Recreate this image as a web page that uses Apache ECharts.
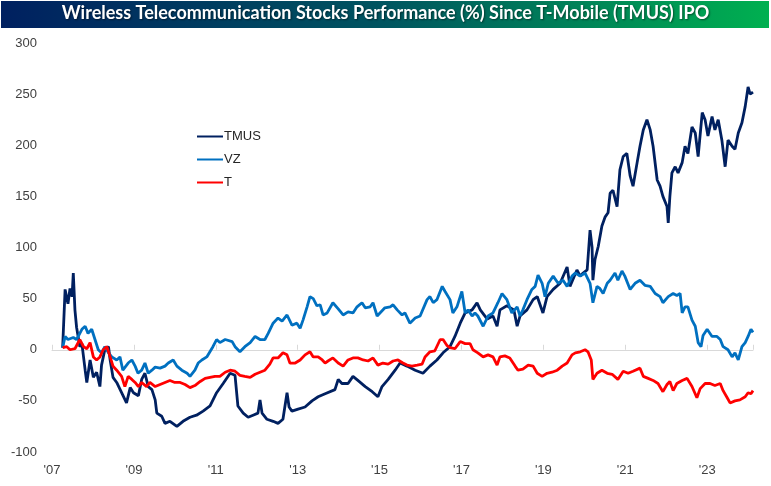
<!DOCTYPE html>
<html>
<head>
<meta charset="utf-8">
<script src="https://cdn.jsdelivr.net/npm/echarts@6/dist/echarts.min.js"></script>
<style>
html,body{margin:0;padding:0;background:#fff;}
#chart{width:771px;height:486px;}
</style>
</head>
<body>
<div id="chart"></div>
<script>
// ---- DATA (decimal year, % performance since IPO) ----
var tmusDates = [2007.26,2007.32,2007.39,2007.44,2007.49,2007.52,2007.56,2007.60,2007.68,2007.73,2007.81,2007.85,2007.93,2008.01,2008.09,2008.17,2008.21,2008.29,2008.38,2008.42,2008.49,2008.58,2008.70,2008.82,2008.91,2008.99,2009.11,2009.19,2009.27,2009.35,2009.44,2009.52,2009.56,2009.68,2009.76,2009.88,2010.05,2010.20,2010.37,2010.53,2010.69,2010.86,2011.02,2011.18,2011.35,2011.47,2011.54,2011.67,2011.79,2011.91,2012.03,2012.08,2012.13,2012.25,2012.40,2012.52,2012.64,2012.74,2012.79,2012.86,2013.01,2013.18,2013.35,2013.50,2013.67,2013.91,2013.99,2014.08,2014.23,2014.35,2014.47,2014.65,2014.82,2014.96,2015.06,2015.21,2015.38,2015.50,2015.67,2015.87,2016.06,2016.23,2016.40,2016.55,2016.72,2016.84,2016.97,2017.09,2017.26,2017.38,2017.46,2017.63,2017.77,2017.87,2017.94,2018.11,2018.28,2018.36,2018.43,2018.60,2018.75,2018.85,2018.99,2019.09,2019.24,2019.41,2019.58,2019.65,2019.82,2019.90,2019.97,2020.07,2020.14,2020.19,2020.21,2020.26,2020.34,2020.43,2020.51,2020.58,2020.63,2020.70,2020.80,2020.87,2020.95,2021.04,2021.12,2021.19,2021.29,2021.36,2021.44,2021.53,2021.61,2021.68,2021.78,2021.85,2021.92,2022.02,2022.05,2022.09,2022.14,2022.22,2022.29,2022.39,2022.46,2022.53,2022.63,2022.71,2022.78,2022.88,2022.95,2023.02,2023.12,2023.19,2023.27,2023.36,2023.44,2023.51,2023.61,2023.68,2023.76,2023.85,2023.93,2024.00,2024.05,2024.12];
var tmusValues = [2,59,45,60,52,75,39,22,3,6,-20,-32,-10,-27,-22,-36,-15,0,3,-10,-27,-32,-42,-52,-37,-42,-45,-29,-23,-36,-39,-49,-62,-65,-72,-70,-75,-70,-66,-64,-60,-55,-42,-33,-23,-25,-55,-62,-66,-64,-62,-49,-62,-68,-70,-72,-68,-42,-56,-60,-58,-56,-50,-46,-43,-39,-29,-33,-33,-26,-30,-36,-41,-46,-36,-29,-20,-13,-16,-20,-23,-16,-10,-3,3,13,26,36,39,46,39,30,33,23,39,43,39,23,33,39,49,52,36,52,59,65,81,62,78,72,75,78,117,100,68,88,101,121,130,134,153,156,140,176,189,192,170,160,183,199,215,225,215,199,166,160,150,140,124,150,173,179,173,183,199,192,218,212,189,232,225,209,228,215,225,205,179,205,199,196,212,222,238,257,250,252];

var vzDates = [2007.26,2007.32,2007.39,2007.52,2007.60,2007.73,2007.81,2007.88,2007.97,2008.05,2008.13,2008.21,2008.29,2008.38,2008.46,2008.58,2008.66,2008.73,2008.86,2008.95,2009.03,2009.10,2009.19,2009.27,2009.35,2009.44,2009.52,2009.64,2009.76,2009.84,2009.96,2010.05,2010.17,2010.30,2010.37,2010.49,2010.57,2010.66,2010.78,2010.93,2011.02,2011.10,2011.23,2011.40,2011.47,2011.59,2011.71,2011.84,2011.96,2012.08,2012.20,2012.28,2012.40,2012.52,2012.62,2012.74,2012.86,2012.98,2013.06,2013.13,2013.23,2013.30,2013.38,2013.47,2013.55,2013.62,2013.72,2013.86,2013.99,2014.11,2014.23,2014.35,2014.45,2014.57,2014.65,2014.77,2014.84,2014.94,2015.01,2015.13,2015.26,2015.33,2015.43,2015.55,2015.62,2015.74,2015.87,2015.99,2016.16,2016.23,2016.31,2016.40,2016.53,2016.60,2016.72,2016.79,2016.89,2017.01,2017.09,2017.16,2017.26,2017.33,2017.40,2017.53,2017.65,2017.77,2017.89,2017.99,2018.11,2018.23,2018.36,2018.43,2018.50,2018.60,2018.72,2018.80,2018.87,2018.97,2019.04,2019.12,2019.24,2019.36,2019.48,2019.58,2019.70,2019.78,2019.90,2020.02,2020.14,2020.21,2020.31,2020.38,2020.46,2020.56,2020.63,2020.75,2020.82,2020.92,2020.99,2021.12,2021.24,2021.36,2021.48,2021.61,2021.73,2021.85,2021.92,2022.05,2022.17,2022.26,2022.34,2022.39,2022.46,2022.53,2022.63,2022.71,2022.78,2022.85,2022.90,2023.00,2023.12,2023.24,2023.32,2023.39,2023.51,2023.61,2023.68,2023.76,2023.85,2023.93,2024.00,2024.07,2024.12];
var vzValues = [2,13,10,12,10,20,23,16,20,10,0,-3,3,-3,-7,-10,-7,-20,-13,-10,-16,-23,-20,-13,-23,-20,-17,-18,-16,-13,-10,-16,-20,-23,-26,-20,-13,-10,-7,3,10,7,10,8,3,-2,3,7,13,10,10,16,26,31,28,34,24,26,21,29,42,52,50,43,44,34,36,46,40,34,37,36,42,46,41,42,46,33,36,41,42,44,39,34,36,26,31,33,49,52,46,49,62,57,49,36,42,57,36,39,33,36,33,23,33,36,46,55,49,36,42,33,39,49,59,62,73,65,52,65,72,65,68,62,72,75,72,75,65,46,62,60,55,65,68,75,68,77,72,59,65,68,63,62,55,52,46,52,55,53,55,36,42,42,29,23,7,3,14,20,13,13,10,3,0,-7,-3,-10,3,7,13,20,17];

var tDates = [2007.26,2007.36,2007.44,2007.56,2007.68,2007.77,2007.85,2007.93,2008.01,2008.09,2008.17,2008.25,2008.34,2008.42,2008.49,2008.58,2008.70,2008.78,2008.86,2008.95,2009.03,2009.11,2009.19,2009.31,2009.39,2009.52,2009.64,2009.76,2009.88,2010.00,2010.13,2010.25,2010.37,2010.49,2010.62,2010.74,2010.86,2010.98,2011.10,2011.23,2011.35,2011.47,2011.59,2011.71,2011.84,2011.96,2012.08,2012.20,2012.32,2012.40,2012.52,2012.64,2012.74,2012.81,2012.94,2013.06,2013.18,2013.30,2013.38,2013.50,2013.60,2013.67,2013.74,2013.86,2013.99,2014.11,2014.23,2014.35,2014.47,2014.60,2014.72,2014.84,2014.96,2015.08,2015.21,2015.33,2015.45,2015.57,2015.67,2015.79,2015.92,2016.04,2016.11,2016.23,2016.35,2016.48,2016.55,2016.65,2016.72,2016.84,2016.97,2017.09,2017.21,2017.28,2017.40,2017.53,2017.65,2017.77,2017.87,2017.94,2018.06,2018.18,2018.31,2018.38,2018.50,2018.63,2018.75,2018.85,2018.97,2019.09,2019.21,2019.34,2019.46,2019.58,2019.70,2019.78,2019.90,2020.02,2020.09,2020.17,2020.21,2020.31,2020.43,2020.56,2020.68,2020.82,2020.95,2021.07,2021.19,2021.36,2021.44,2021.56,2021.68,2021.80,2021.92,2022.02,2022.09,2022.17,2022.26,2022.39,2022.51,2022.63,2022.75,2022.83,2022.95,2023.07,2023.19,2023.32,2023.39,2023.49,2023.56,2023.68,2023.80,2023.93,2024.00,2024.07,2024.12];
var tValues = [2,3,0,1,10,3,1,7,-7,-10,-7,0,3,-7,-16,-20,-26,-36,-26,-29,-32,-36,-32,-36,-32,-36,-34,-32,-30,-32,-32,-34,-37,-35,-31,-28,-27,-26,-26,-22,-20,-21,-25,-26,-27,-24,-22,-20,-14,-8,-8,-3,-5,-13,-13,-10,-5,-2,-7,-7,-10,-13,-11,-8,-13,-16,-10,-8,-8,-10,-11,-8,-15,-13,-14,-11,-10,-13,-15,-16,-15,-14,-7,-2,-1,10,10,4,2,1,8,6,6,0,-3,-7,-5,-7,-15,-7,-6,-8,-16,-20,-19,-15,-16,-23,-26,-23,-22,-20,-16,-13,-5,-3,-2,0,-2,-10,-29,-23,-20,-23,-24,-29,-21,-23,-21,-18,-26,-28,-30,-33,-41,-34,-31,-40,-33,-30,-28,-36,-47,-38,-33,-33,-35,-33,-40,-47,-52,-50,-49,-46,-42,-43,-40];

var seriesNames = ['TMUS', 'VZ', 'T'];
var yTicks = [-100, -50, 0, 50, 100, 150, 200, 250, 300];
var startYear = 2007;
var endYear = 2024.12;
var titleText = 'Wireless Telecommunication Stocks Performance (%) Since T-Mobile (TMUS) IPO';

function pairs(dates, vals) {
  return dates.map(function (d, i) { return [d - startYear, vals[i]]; });
}

var chart = echarts.init(document.getElementById('chart'), null, {renderer: 'canvas'});
var labelFont = {color: '#404040', fontSize: 13, fontFamily: 'Liberation Sans'};
chart.setOption({
  animation: false,
  backgroundColor: '#ffffff',
  graphic: [
    {
      type: 'rect',
      shape: {x: 1, y: 1, width: 768, height: 27},
      style: {
        fill: new echarts.graphic.LinearGradient(0, 0, 1, 0, [
          {offset: 0, color: '#002060'},
          {offset: 0.5, color: '#005560'},
          {offset: 1, color: '#00B050'}
        ])
      },
      z: 10
    },
    {
      type: 'text',
      left: 'center',
      top: 4,
      style: {
        text: titleText,
        fill: '#ffffff',
        font: 'bold 18px Lato',
        textShadowColor: 'rgba(0,0,0,0.5)',
        textShadowBlur: 2,
        textShadowOffsetX: 1,
        textShadowOffsetY: 1
      },
      z: 11
    }
  ],
  legend: {
    data: seriesNames,
    orient: 'vertical',
    left: 192,
    top: 125,
    itemWidth: 26,
    itemHeight: 2,
    itemGap: 10,
    icon: 'rect',
    textStyle: {color: '#262626', fontSize: 13, fontFamily: 'Liberation Sans', padding: [0, 0, 0, -4]}
  },
  grid: {left: 52, right: 18, top: 43, bottom: 34},
  xAxis: [
    {
      type: 'value',
      min: 0,
      max: endYear - startYear,
      interval: 2,
      position: 'bottom',
      axisLine: {show: false, onZero: false},
      axisTick: {show: false},
      splitLine: {show: false},
      axisLabel: Object.assign({
        margin: 12,
        showMaxLabel: false,
        formatter: function (v) {
          var y = startYear + Math.round(v) - 2000;
          return "'" + (y < 10 ? '0' + y : y);
        }
      }, labelFont)
    },
    {
      type: 'value',
      min: 0,
      max: endYear - startYear,
      interval: 2,
      position: 'bottom',
      axisLine: {show: true, onZero: true, lineStyle: {color: '#D9D9D9', width: 1}},
      axisTick: {show: true, inside: true, length: 5, lineStyle: {color: '#D9D9D9'}},
      axisLabel: {show: false},
      splitLine: {show: false}
    }
  ],
  yAxis: {
    type: 'value',
    min: yTicks[0],
    max: yTicks[yTicks.length - 1],
    interval: 50,
    axisLine: {show: false},
    axisTick: {show: false},
    splitLine: {show: false},
    axisLabel: Object.assign({margin: 15}, labelFont)
  },
  series: [
    {name: 'TMUS', type: 'line', xAxisIndex: 0, data: pairs(tmusDates, tmusValues), showSymbol: false, symbol: 'none',
     lineStyle: {color: '#002060', width: 2.8}, itemStyle: {color: '#002060'}},
    {name: 'VZ', type: 'line', xAxisIndex: 0, data: pairs(vzDates, vzValues), showSymbol: false, symbol: 'none',
     lineStyle: {color: '#0070C0', width: 2.8}, itemStyle: {color: '#0070C0'}},
    {name: 'T', type: 'line', xAxisIndex: 0, data: pairs(tDates, tValues), showSymbol: false, symbol: 'none',
     lineStyle: {color: '#FF0000', width: 2.8}, itemStyle: {color: '#FF0000'}}
  ]
});
</script>
</body>
</html>
